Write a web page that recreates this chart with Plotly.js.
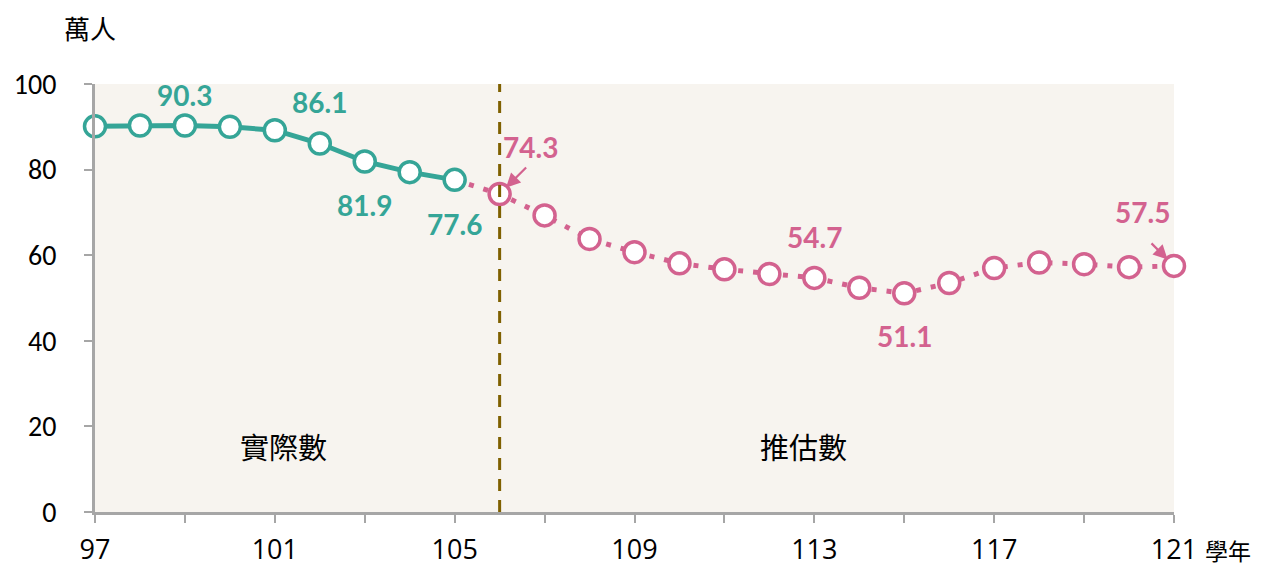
<!DOCTYPE html>
<html><head><meta charset="utf-8">
<script src="https://cdn.plot.ly/plotly-3.0.1.min.js"></script>
<style>html,body{margin:0;padding:0;background:#fff}#chart{width:1269px;height:567px}</style>
</head><body><div id="chart"></div>
<script>
// 學年 (school years)
const actualYears = [97, 98, 99, 100, 101, 102, 103, 104, 105];
const actualValues = [90.1, 90.3, 90.3, 90.0, 89.2, 86.1, 81.9, 79.4, 77.6];
const forecastYears = [106, 107, 108, 109, 110, 111, 112, 113, 114, 115, 116, 117, 118, 119, 120, 121];
const forecastValues = [74.3, 69.3, 63.8, 60.7, 58.1, 56.7, 55.6, 54.7, 52.4, 51.1, 53.5, 57.0, 58.3, 57.9, 57.2, 57.5];
const tickYears = [97, 99, 101, 103, 105, 107, 109, 111, 113, 115, 117, 119, 121];
const tickLabels = ['97', '', '101', '', '105', '', '109', '', '113', '', '117', '', '121'];
const yTicks = [0, 20, 40, 60, 80, 100];
const labeledActual = [99, 102, 103, 105];
const labeledForecast = [113, 115];
const arrowLabeled = [106, 121];

const teal = '#35A597';
const pink = '#D3628F';
const lblFamily = 'Lato, "Open Sans", sans-serif';
const lblSize = 28;

const lastActualX = actualYears[actualYears.length - 1];
const lastActualY = actualValues[actualValues.length - 1];

const traces = [
  {x: [lastActualX].concat(forecastYears), y: [lastActualY].concat(forecastValues), mode: 'lines',
   line: {color: pink, width: 5, dash: '5px,10px'}, hoverinfo: 'skip', showlegend: false, cliponaxis: false},
  {x: actualYears, y: actualValues, mode: 'lines+markers', cliponaxis: false,
   line: {color: teal, width: 5},
   marker: {size: 21, color: '#fff', line: {color: teal, width: 3.5}}, showlegend: false},
  {x: forecastYears, y: forecastValues, mode: 'markers', cliponaxis: false,
   marker: {size: 21, color: '#fff', line: {color: pink, width: 3.5}}, showlegend: false}
];

function valOf(xs, ys, x) { return ys[xs.indexOf(x)]; }

const annotations = [];
const actualOffsets = {99: -31, 102: -41, 103: 44, 105: 44};
labeledActual.forEach(x => {
  const v = valOf(actualYears, actualValues, x);
  annotations.push({x: x, y: v, text: v.toFixed(1), showarrow: false, yshift: -actualOffsets[x],
    font: {family: lblFamily, size: lblSize, color: teal, weight: 'bold'}});
});
const forecastOffsets = {113: -41, 115: 43};
labeledForecast.forEach(x => {
  const v = valOf(forecastYears, forecastValues, x);
  annotations.push({x: x, y: v, text: v.toFixed(1), showarrow: false, yshift: -forecastOffsets[x],
    font: {family: lblFamily, size: lblSize, color: pink, weight: 'bold'}});
});
const arrowCfg = {106: {ax: 28, ay: -28, tx: 0.68, ty: -47}, 121: {ax: -24, ay: -24, tx: -0.7, ty: -54}};
arrowLabeled.forEach(x => {
  const v = valOf(forecastYears, forecastValues, x);
  const c = arrowCfg[x];
  annotations.push({x: x, y: v, text: '', showarrow: true, arrowcolor: pink, arrowwidth: 2.2, arrowhead: 2, arrowsize: 1.3,
    ax: c.ax, ay: c.ay, standoff: 9});
  annotations.push({x: x + c.tx, y: v, yshift: -c.ty, text: v.toFixed(1), showarrow: false,
    font: {family: lblFamily, size: lblSize, color: pink, weight: 'bold'}});
});
// text labels
annotations.push({xref: 'paper', yref: 'paper', x: -0.005, y: 1.131, xanchor: 'center', yanchor: 'middle', text: '萬人', showarrow: false,
  font: {family: '"Noto Sans CJK TC", sans-serif', size: 26, color: '#000'}});
annotations.push({xref: 'paper', yref: 'paper', x: 1.0, y: -0.089, xanchor: 'left', yanchor: 'middle', xshift: 30, text: '學年', showarrow: false,
  height: 26, borderpad: 0,
  font: {family: '"Noto Sans CJK TC", sans-serif', size: 23, color: '#000'}});
annotations.push({x: 101.2, y: 15.5, text: '實際數', showarrow: false,
  font: {family: '"Noto Sans CJK TC", sans-serif', size: 29, color: '#000'}});
annotations.push({x: 112.75, y: 15.5, text: '推估數', showarrow: false,
  font: {family: '"Noto Sans CJK TC", sans-serif', size: 29, color: '#000'}});

const layout = {
  width: 1269, height: 567,
  margin: {l: 95, r: 95, t: 84, b: 55},
  paper_bgcolor: '#fff', plot_bgcolor: '#F7F4EF',
  xaxis: {range: [97, 121], tickvals: tickYears, ticktext: tickLabels, showgrid: false, zeroline: false,
    showline: true, linecolor: '#A6A6A6', linewidth: 3, ticks: 'outside', ticklen: 8, tickwidth: 2, tickcolor: '#A6A6A6',
    ticklabelstandoff: 4, tickfont: {family: '"Liberation Sans Narrow", "Open Sans", sans-serif', size: 27, color: '#000'}},
  yaxis: {range: [0, 100], tickvals: yTicks, showgrid: false, zeroline: false,
    showline: true, linecolor: '#A6A6A6', linewidth: 3, ticks: 'outside', ticklen: 8, tickwidth: 2, tickcolor: '#A6A6A6',
    ticklabelstandoff: 22, tickfont: {family: 'Carlito, Calibri, "Liberation Sans", sans-serif', size: 28, color: '#000'}},
  shapes: [{type: 'line', xref: 'x', yref: 'paper', x0: 106, x1: 106, y0: 0, y1: 1, layer: 'above',
    line: {color: '#7F6000', width: 3, dash: '12px,9px'}}],
  annotations: annotations
};
Plotly.newPlot('chart', traces, layout, {displayModeBar: false, staticPlot: true});
</script>
</body></html>
